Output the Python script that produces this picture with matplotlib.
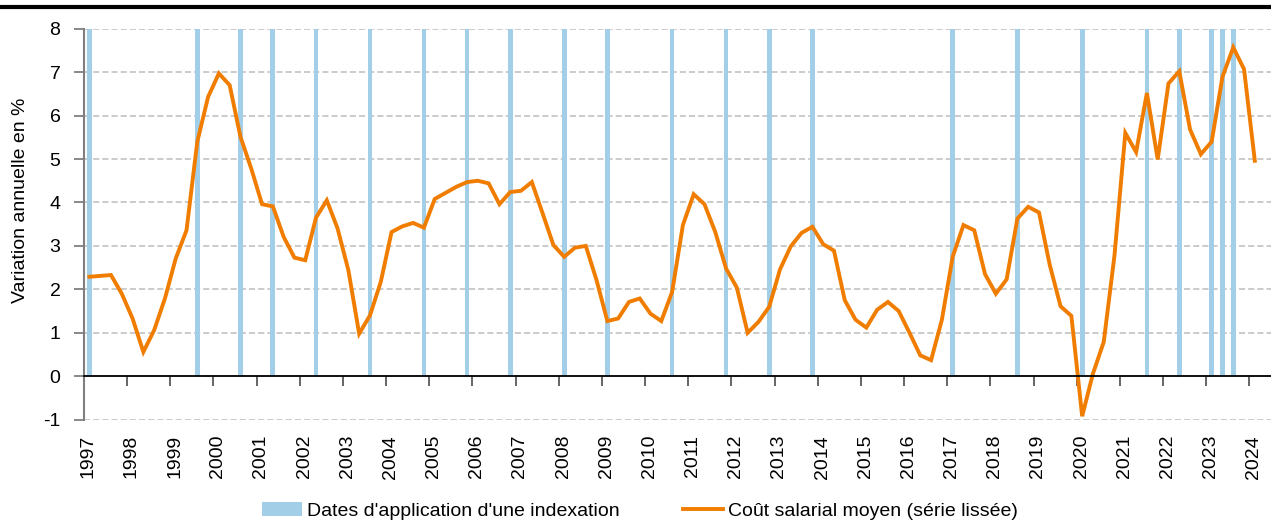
import matplotlib
matplotlib.use("Agg")
import matplotlib.pyplot as plt
from matplotlib.lines import Line2D

plt.rcParams['font.family'] = ['Liberation Sans', 'DejaVu Sans']
plt.rcParams['axes.unicode_minus'] = False

# Coût salarial moyen, variation annuelle en % (série lissée), trimestriel 1997T1 - 2024T1
start_year = 1997
cout_salarial = [
    2.29, 2.31, 2.33, 1.90,   # 1997
    1.33, 0.56, 1.06, 1.79,   # 1998
    2.71, 3.36, 5.40, 6.43,   # 1999
    6.97, 6.70, 5.51, 4.78,   # 2000
    3.96, 3.91, 3.21, 2.73,   # 2001
    2.67, 3.65, 4.05, 3.40,   # 2002
    2.44, 0.98, 1.40, 2.17,   # 2003
    3.32, 3.45, 3.53, 3.42,   # 2004
    4.08, 4.22, 4.36, 4.47,   # 2005
    4.50, 4.44, 3.96, 4.24,   # 2006
    4.27, 4.47, 3.75, 3.02,   # 2007
    2.75, 2.96, 3.00, 2.21,   # 2008
    1.27, 1.33, 1.71, 1.79,   # 2009
    1.44, 1.27, 1.94, 3.48,   # 2010
    4.19, 3.96, 3.32, 2.48,   # 2011
    2.04, 1.00, 1.25, 1.60,   # 2012
    2.46, 2.99, 3.30, 3.44,   # 2013
    3.04, 2.89, 1.75, 1.30,   # 2014
    1.12, 1.53, 1.71, 1.50,   # 2015
    1.00, 0.48, 0.37, 1.30,   # 2016
    2.75, 3.48, 3.36, 2.35,   # 2017
    1.90, 2.23, 3.63, 3.90,   # 2018
    3.77, 2.56, 1.61, 1.39,   # 2019
    -0.92, 0.06, 0.79, 2.79,  # 2020
    5.60, 5.16, 6.52, 4.99,   # 2021
    6.74, 7.02, 5.68, 5.11,   # 2022
    5.40, 6.89, 7.57, 7.07,   # 2023
    4.96,                     # 2024
]

# Trimestres où une indexation a été appliquée
indexation_dates = [
    "1997T1", "1999T3", "2000T3", "2001T2", "2002T2", "2003T3", "2004T4",
    "2005T4", "2006T4", "2008T1", "2009T1", "2010T3", "2011T4", "2012T4",
    "2013T4", "2017T1", "2018T3", "2020T1", "2021T3", "2022T2", "2023T1",
    "2023T2", "2023T3",
]

year_labels = [str(y) for y in range(1997, 2025)]

label_bars = "Dates d'application d'une indexation"
label_line = "Coût salarial moyen (série lissée)"


# quarter -> position on a year axis (middle of the quarter)
def quarter_pos(year, q):
    return year + (q - 1) * 0.25 + 0.125


x_line = [quarter_pos(start_year + i // 4, i % 4 + 1) for i in range(len(cout_salarial))]
x_index = [quarter_pos(int(d[:4]), int(d[-1])) for d in indexation_dates]

fig = plt.figure(figsize=(12.71, 5.22), dpi=100)
ax = fig.add_axes([84 / 1271, 1 - 419.7 / 522, 1 - 84 / 1271, (419.7 - 28.7) / 522])

# indexation bars from 0 up to the top of the axis
bars = ax.bar(x_index, [8] * len(x_index), width=0.11, bottom=0, color='#A2CEE7',
              label=label_bars, zorder=2)
line, = ax.plot(x_line, cout_salarial, color='#F07D00', linewidth=2.8, label=label_line,
                zorder=3, solid_joinstyle='miter')

ax.set_xlim(1997, 2024.5)
ax.set_ylim(-1, 8)
ax.set_yticks(range(-1, 9))
ax.grid(axis='y', linestyle=(0, (4, 2)), color='#BDBDBD', linewidth=1.1, zorder=0)
ax.set_axisbelow(True)

for s in ['top', 'right']:
    ax.spines[s].set_visible(False)
ax.spines['left'].set_color('#7F7F7F')
ax.spines['left'].set_linewidth(1.5)
ax.spines['bottom'].set_position(('data', 0))
ax.spines['bottom'].set_color('black')
ax.spines['bottom'].set_linewidth(1.3)
ax.spines['bottom'].set_zorder(4)

ax.set_xticks(range(1997, 2025))
ax.tick_params(axis='x', direction='out', length=7, width=1.3, color='#595959',
               labelbottom=False)
ax.tick_params(axis='y', direction='out', length=7, width=1.3, color='#7F7F7F',
               labelsize=14, pad=10)

# year labels under the -1 line (slightly right of the ticks as in the original)
sec = ax.secondary_xaxis('bottom', functions=(lambda x: x - 0.1, lambda x: x + 0.1))
sec.set_xticks(range(1997, 2025))
sec.set_xticklabels(year_labels, rotation=90, fontsize=14)
sec.tick_params(length=0, pad=11)
sec.spines['bottom'].set_visible(False)

ax.set_ylabel("Variation annuelle en %", fontsize=14)
ax.yaxis.set_label_coords(-0.0463, 0.562)

# thick black rule at the top
fig.add_artist(Line2D([0, 1], [1 - 7 / 522, 1 - 7 / 522], color='black', linewidth=3,
                      transform=fig.transFigure))

fig.legend(handles=[bars, line], labels=[label_bars, label_line],
           loc='center', bbox_to_anchor=(640 / 1271, 11 / 522), ncol=2, frameon=False,
           fontsize=14, handlelength=2.05, handletextpad=0.25, columnspacing=3.3,
           borderpad=0, borderaxespad=0)

fig.savefig("out.png", dpi=100)
